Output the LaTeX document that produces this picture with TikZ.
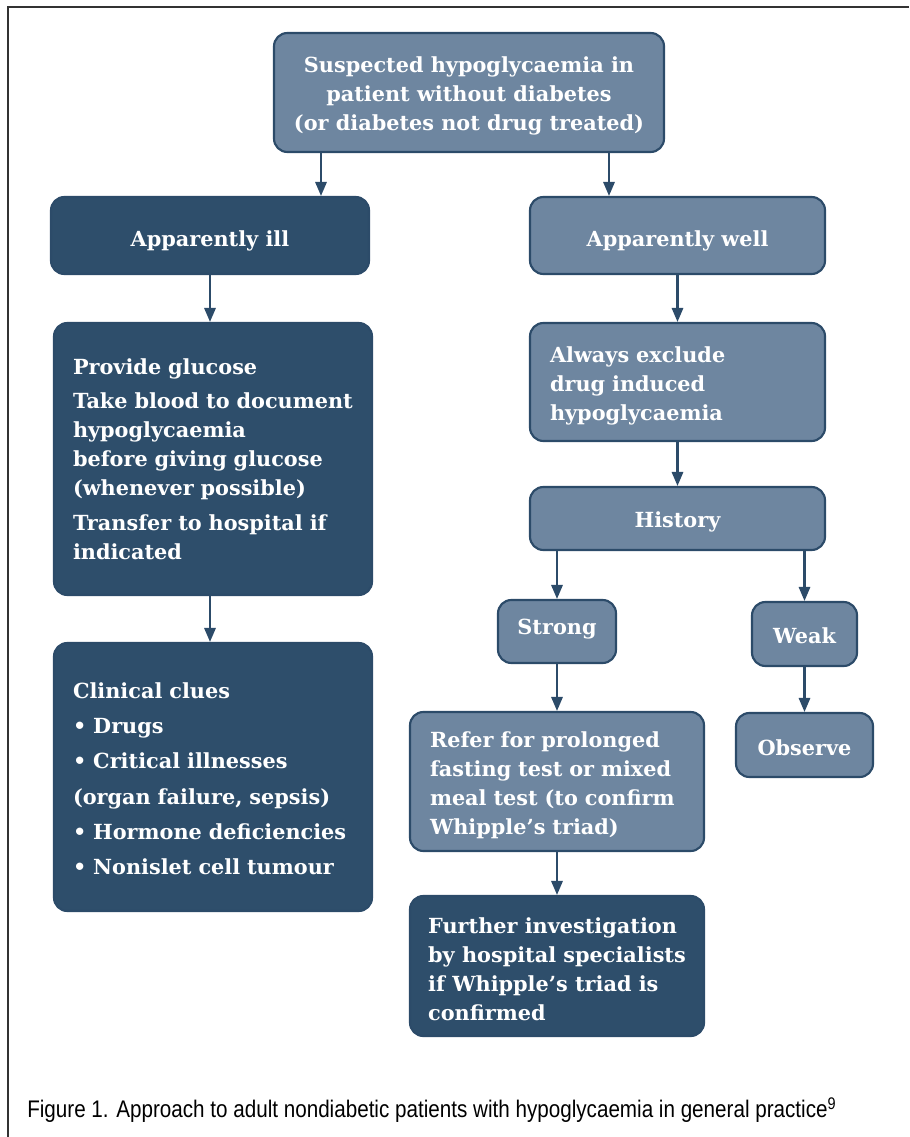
\documentclass[tikz,border=0pt]{standalone}
\usepackage{fontspec}
\setmainfont{DejaVu Serif}
\newfontfamily\capfont[FakeStretch=0.86]{Liberation Sans}
\usetikzlibrary{arrows.meta}

\definecolor{boxlight}{HTML}{6E86A0}
\definecolor{boxdark}{HTML}{2E4E6B}
\definecolor{boxline}{HTML}{2C4B69}

% taller first line, pushes a text block down in its box
\newcommand{\topstrut}[1]{\rule{0pt}{#1}}

\tikzset{
  boxbase/.style={draw=boxline, line width=1.6pt, rounded corners=10pt,
    text=white, inner sep=0pt, font=\bfseries\fontsize{15.6}{21.8}\selectfont},
  lightbox/.style={boxbase, fill=boxlight},
  darkbox/.style={boxbase, fill=boxdark},
  boxsize/.style 2 args={minimum width=#1*0.75pt, minimum height=#2*0.75pt},
  leftbox/.style={align=left, text width=#1*0.75pt},
  oneline/.style={text height=#1, text depth=0pt},
  flow/.style={draw=boxline, line width=1.6pt, -{Triangle[width=8.5pt,length=10.5pt]}},
}

\begin{document}
\begin{tikzpicture}[x=0.75pt, y=-0.75pt]
  \useasboundingbox (0,0) rectangle (909,1137);

  % frame
  \draw[black!80, line width=0.9pt] (8,1137) -- (8,7) -- (909,7);

  % start
  \node[lightbox, boxsize={390}{119}, align=center] (start) at (469,92.5)
    {\topstrut{16.4pt}Suspected hypoglycaemia in\\ patient without diabetes\\ (or diabetes not drug treated)};

  % left branch
  \node[darkbox, boxsize={318}{77}, oneline=17.2pt] (ill) at (210,235.5) {Apparently ill};
  \node[darkbox, boxsize={318}{272}, leftbox=280] (glucose) at (213,459)
    {Provide glucose\\[4pt]
     Take blood to document\\ hypoglycaemia\\ before giving glucose\\ (whenever possible)\\[4pt]
     Transfer to hospital if\\ indicated};
  \node[darkbox, boxsize={318}{268}, leftbox=280] (clues) at (213,777)
    {\topstrut{14.5pt}Clinical clues\\[4.5pt]
     \textbullet\ Drugs\\[4.5pt]
     \textbullet\ Critical illnesses\\[4.5pt]
     (organ failure, sepsis)\\[4.5pt]
     \textbullet\ Hormone deficiencies\\[4.5pt]
     \textbullet\ Nonislet cell tumour};

  % right branch
  \node[lightbox, boxsize={295}{77}, oneline=15.8pt] (well) at (677.5,235.5) {Apparently well};
  \node[lightbox, boxsize={295}{118}, leftbox=255] (exclude) at (677.5,382)
    {\topstrut{17.6pt}Always exclude\\ drug induced\\ hypoglycaemia};
  \node[lightbox, boxsize={295}{63}, oneline=14.2pt] (history) at (677.5,518.5) {History};
  \node[lightbox, boxsize={118}{63}, oneline=5.2pt] (strong) at (557,631.5) {Strong};
  \node[lightbox, boxsize={105}{64}, oneline=13.5pt] (weak) at (804.5,634) {Weak};
  \node[lightbox, boxsize={137}{64}, oneline=15pt] (observe) at (804.5,745) {Observe};
  \node[lightbox, boxsize={294}{139}, leftbox=254] (refer) at (557,781.5)
    {\topstrut{17.1pt}Refer for prolonged\\ fasting test or mixed\\ meal test (to confirm\\ Whipple's triad)};
  \node[darkbox, boxsize={294}{140}, align=left] (further) at (557,966)
    {\topstrut{16.5pt}Further investigation\\ by hospital specialists\\ if Whipple's triad is\\ confirmed};

  % arrows
  \coordinate (xill) at (321,0);
  \coordinate (xwell) at (609,0);
  \draw[flow] (start.south -| xill) -- (ill.north -| xill);
  \draw[flow] (start.south -| xwell) -- (well.north -| xwell);
  \draw[flow] (ill) -- (glucose.north -| ill);
  \draw[flow] (glucose.south -| ill) -- (clues.north -| ill);
  \draw[flow] (well) -- (exclude);
  \draw[flow] (exclude) -- (history);
  \draw[flow] (history.south -| strong) -- (strong);
  \draw[flow] (history.south -| weak) -- (weak);
  \draw[flow] (weak) -- (observe);
  \draw[flow] (strong) -- (refer);
  \draw[flow] (refer) -- (further);

  % caption
  \node[anchor=west, inner sep=0pt, font=\capfont\fontsize{18}{21}\selectfont] (caption) at (27,1110)
    {Figure 1. Approach to adult nondiabetic patients with hypoglycaemia in general practice\textsuperscript{9}};
\end{tikzpicture}
\end{document}
